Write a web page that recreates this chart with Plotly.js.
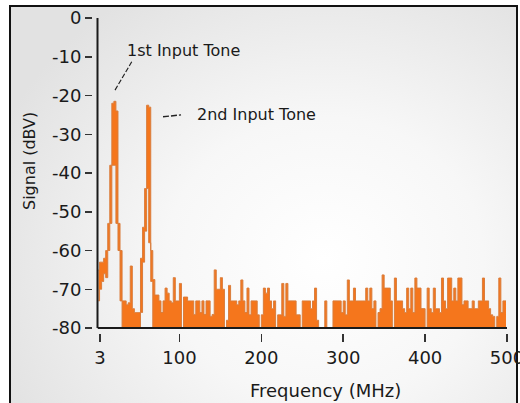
<!DOCTYPE html>
<html><head><meta charset="utf-8">
<script src="https://cdn.plot.ly/plotly-3.0.1.min.js"></script>
<style>
html,body{margin:0;padding:0;background:#fff;}
#wrap{position:relative;width:520px;height:403px;overflow:hidden;background:#fff;}
#frame{position:absolute;left:9px;top:5px;width:505px;height:420px;border:2px solid #111;
  background:radial-gradient(ellipse 70% 75% at 62% 60%, #ffffff 0%, #f7f7f7 45%, #e2e2e2 100%);}
#chart{position:absolute;left:0;top:0;width:520px;height:403px;}
</style></head>
<body><div id="wrap"><div id="frame"></div><div id="chart"></div></div>
<script>
// Spectrum sampled in 2.5 MHz bins (upper / lower envelope of the trace in each bin), dBV
const upperSignal = [
-65,-63,-63,-62,-60,-53,-38,-22,-21.5,-24,
-53,-60,-73,-73,-74,-73.5,-64,-75,-76,-76,
-76,-62,-54,-44,-22.5,-23,-60,-67.5,-71.5,-71.5,
-73,-76,-73,-69.7,-71,-73,-73.5,-67,-73,-73,
-68.5,-80,-72,-72,-73,-73,-73,-76.5,-73,-73,
-76,-73,-76.5,-73,-73,-77,-76.5,-65,-70,-70,
-67,-70,-80,-78,-69,-73,-73,-73,-74,-73,
-67.6,-73,-76,-69.7,-76.6,-73,-73,-73,-76.6,-80,
-76.6,-69.7,-71,-69.7,-73,-75,-73,-80,-76.6,-76.6,
-68.5,-77,-68.5,-73,-73,-73,-73,-76.6,-76.6,-80,
-73,-73,-73,-73,-75,-73,-69.7,-78,-80,-80,
-80,-73,-80,-80,-80,-73,-73,-73,-73,-76,
-73,-76.6,-67.6,-73,-73,-69.7,-73,-73,-73,-73,
-73,-69.7,-73,-69.7,-75,-73,-80,-76,-75,-66.3,
-69.7,-69.7,-69.7,-73,-80,-67.1,-73,-73,-73,-75,
-76,-69.7,-75,-69.7,-76,-67.1,-69.7,-69.7,-75,-75,
-80,-69.7,-75,-76,-69.7,-75,-75,-76,-67.1,-73,
-75,-67.1,-67.1,-73,-69.7,-73,-67.1,-67.1,-74,-73,
-73,-75,-75,-73,-75,-75,-73,-73,-67.1,-73,
-73,-75,-76.6,-77,-80,-77,-67.1,-76,-73,-73
];
const lowerSignal = [
-73,-70,-68,-66,-67,-60,-53,-38,-38,-53,
-60,-73,-80,-80,-80,-80,-80,-80,-80,-80,
-80,-76,-63,-55,-44,-58,-68,-80,-80,-80,
-80,-80,-80,-80,-80,-80,-80,-80,-80,-80,
-80,-80,-80,-80,-80,-80,-80,-80,-80,-80,
-80,-80,-80,-80,-80,-80,-80,-80,-80,-80,
-80,-80,-80,-80,-80,-80,-80,-80,-80,-80,
-80,-80,-80,-80,-80,-80,-80,-80,-80,-80,
-80,-80,-80,-80,-80,-80,-80,-80,-80,-80,
-80,-80,-80,-80,-80,-80,-80,-80,-80,-80,
-80,-80,-80,-80,-80,-80,-80,-80,-80,-80,
-80,-80,-80,-80,-80,-80,-80,-80,-80,-80,
-80,-80,-80,-80,-80,-80,-80,-80,-80,-80,
-80,-80,-80,-80,-80,-80,-80,-80,-80,-80,
-80,-80,-80,-80,-80,-80,-80,-80,-80,-80,
-80,-80,-80,-80,-80,-80,-80,-80,-80,-80,
-80,-80,-80,-80,-80,-80,-80,-80,-80,-80,
-80,-80,-80,-80,-80,-80,-80,-80,-80,-80,
-80,-80,-80,-80,-80,-80,-80,-80,-80,-80,
-80,-80,-80,-80,-80,-80,-80,-80,-80,-80
];
const binStartMHz = 1.25;
const binWidthMHz = 2.5;

const xTickVals = [3, 100, 200, 300, 400, 500];
const xTickText = ['3', '100', '200', '300', '400', '500'];
const yTickVals = [0, -10, -20, -30, -40, -50, -60, -70, -80];
const yTickText = ['0', '-10', '-20', '-30', '-40', '-50', '-60', '-70', '-80'];

const lineColor = '#d97d3c';
const fillColor = '#f5761c';
const txt = '#1a1a1a';
const font = 'DejaVu Sans';

const traces = [
  {type:'scatter', mode:'lines', y: lowerSignal, x0: binStartMHz, dx: binWidthMHz,
   line:{color: lineColor, width:1, shape:'hvh'}, hoverinfo:'skip'},
  {type:'scatter', mode:'lines', y: upperSignal, x0: binStartMHz, dx: binWidthMHz,
   line:{color: lineColor, width:1, shape:'hvh'}, fill:'tonexty', fillcolor: fillColor, hoverinfo:'skip'}
];

const xDomStart = 0.01325, yDomStart = 0.01587;
const layout = {
  width:520, height:403,
  margin:{l:92, r:13, t:18, b:70, pad:0},
  paper_bgcolor:'rgba(0,0,0,0)', plot_bgcolor:'rgba(0,0,0,0)',
  showlegend:false,
  xaxis:{domain:[xDomStart,1], range:[0,500], anchor:'free', position:0,
    tickmode:'array', tickvals:xTickVals, ticktext:xTickText,
    ticks:'outside', ticklen:8, tickwidth:1.5, tickcolor:'#333',
    ticklabeloverflow:'allow',
    showline:false, showgrid:false, zeroline:false,
    tickfont:{family:font, size:18, color:txt}},
  yaxis:{domain:[yDomStart,1], range:[-80,0], anchor:'free', position:0,
    tickmode:'array', tickvals:yTickVals, ticktext:yTickText,
    ticks:'outside', ticklen:7, tickwidth:1.5, tickcolor:'#333',
    showline:false, showgrid:false, zeroline:false,
    tickfont:{family:font, size:18, color:txt}},
  shapes:[
    {type:'line', xref:'x', yref:'paper', x0:0, x1:500, y0:yDomStart, y1:yDomStart, line:{color:'#1a1a1a', width:2}, layer:'above'},
    {type:'line', xref:'paper', yref:'y', x0:xDomStart, x1:xDomStart, y0:-80, y1:0, line:{color:'#1a1a1a', width:2}, layer:'above'},
    {type:'line', xref:'x', yref:'y', x0:21.4, y0:-18.6, x1:41.8, y1:-11.3, line:{color:'#222', width:1.2, dash:'5px,2px'}},
    {type:'line', xref:'x', yref:'y', x0:80, y0:-25.5, x1:102, y1:-25.0, line:{color:'#222', width:1.4, dash:'6px,2px'}}
  ],
  annotations:[
    {xref:'x', yref:'y', x:33.6, y:-8.5, xanchor:'left', yanchor:'middle', showarrow:false,
     text:'1st Input Tone', font:{family:font, size:16, color:txt}},
    {xref:'x', yref:'y', x:119, y:-24.9, xanchor:'left', yanchor:'middle', showarrow:false,
     text:'2nd Input Tone', font:{family:font, size:16, color:txt}},
    {xref:'x', yref:'paper', x:278.4, y:-0.181, xanchor:'center', yanchor:'middle', showarrow:false,
     text:'Frequency (MHz)', font:{family:font, size:18, color:txt}},
    {xref:'paper', yref:'paper', x:-0.1518, y:0.546, xanchor:'center', yanchor:'middle', showarrow:false,
     textangle:-90, text:'Signal (dBV)', font:{family:font, size:16, color:txt}}
  ]
};
Plotly.newPlot('chart', traces, layout, {displayModeBar:false, staticPlot:true});
</script>
</body></html>
